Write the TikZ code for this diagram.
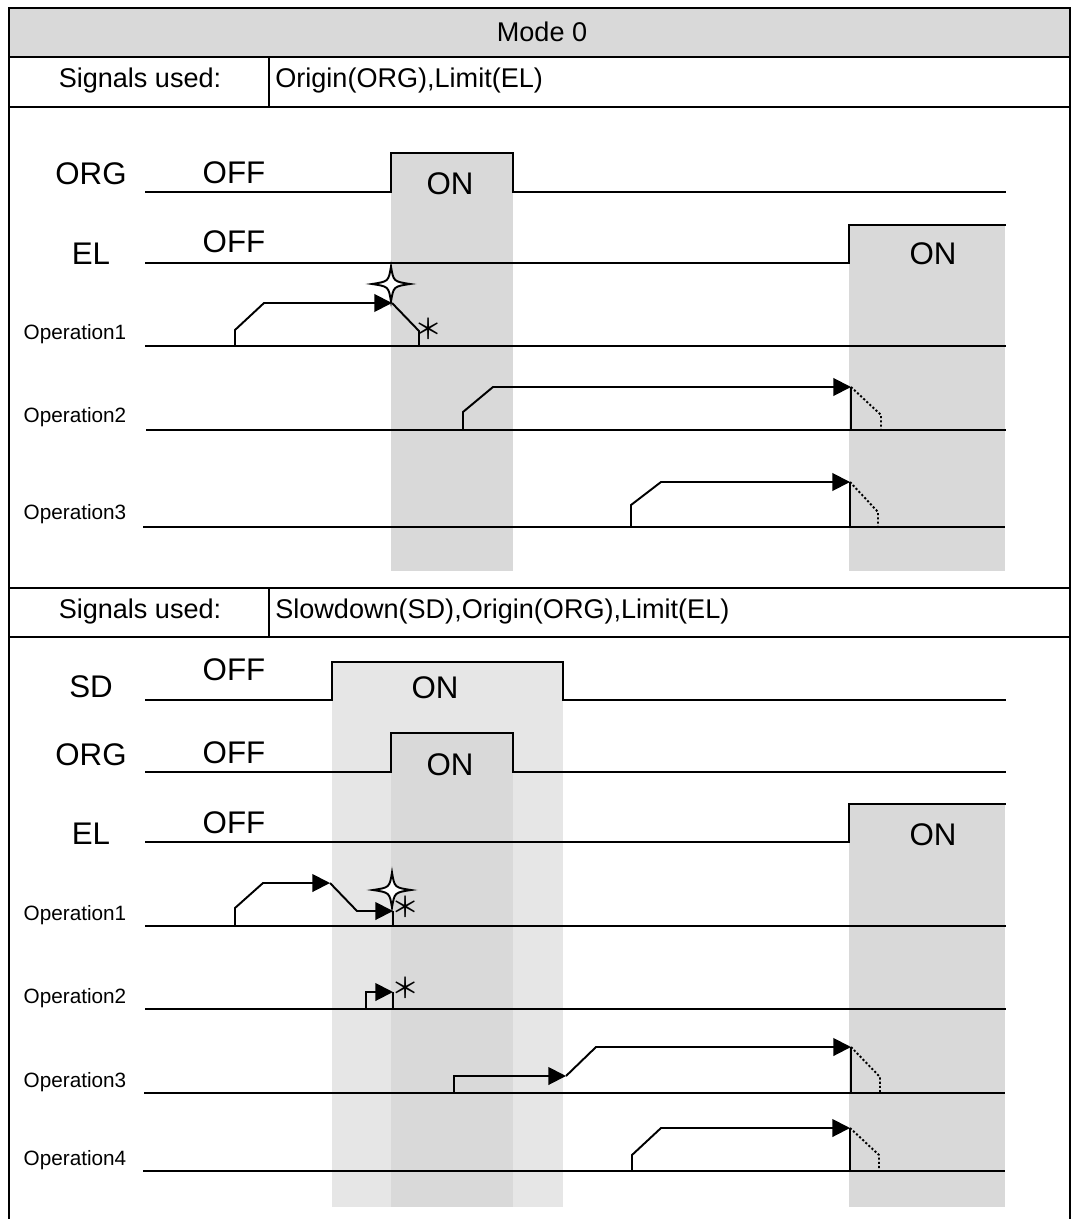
\documentclass[tikz,border=0pt]{standalone}
\usepackage{fontspec}
\setmainfont{Liberation Sans}
\newfontfamily\cjkfont{Noto Sans CJK JP}
\usepackage{xcolor}
\usepackage{tikz}
\usetikzlibrary{arrows.meta}
\definecolor{ShadeDark}{HTML}{D9D9D9}
\definecolor{ShadeLight}{HTML}{E6E6E6}
\newcommand{\cellfont}{\fontsize{15.4}{18}\selectfont}
\newcommand{\sigfont}{\fontsize{17.8}{20}\selectfont}
\newcommand{\opfont}{\fontsize{11.8}{14}\selectfont}
\newcommand{\astfont}{\cjkfont\fontsize{16}{18}\selectfont}
% four-point star marking where the origin is caught
\newcommand{\sparkat}[1]{\draw[spark,shift={#1}] (0,-17.5) .. controls (2.5,-2.5) .. (19,0) .. controls (2.5,2.5) .. (0,17.5) .. controls (-2.5,2.5) .. (-19,0) .. controls (-2.5,-2.5) .. (0,-17.5) -- cycle;}

\begin{document}
\begin{tikzpicture}[
        x=0.02cm, y=-0.02cm,
        every node/.style={inner sep=0pt},
        cell/.style={font=\cellfont},
        siglabel/.style={font=\sigfont,anchor=base},
        oplabel/.style={font=\opfont,anchor=base},
        astmark/.style={font=\astfont},
        rule/.style={line width=1.6pt},
        wave/.style={line width=1.1pt},
        move/.style={line width=1.1pt},
        arr/.style={move,-{Triangle[length=10pt,width=10pt]}},
        coast/.style={line width=1.1pt,dash pattern=on 1.2pt off 1.2pt},
        spark/.style={draw,fill=white,line width=1.1pt}
      ]
      \useasboundingbox (0,0) rectangle (1074,1219);

      % table frame
      \fill[ShadeDark] (9,8) rectangle (1070,57);
      \draw[rule] (9,1219) -- (9,8) -- (1070,8) -- (1070,1219);
      \draw[rule] (9,57) -- (1070,57);
      \draw[rule] (9,107) -- (1070,107);
      \draw[rule] (269,57) -- (269,107);
      \draw[rule] (9,588) -- (1070,588);
      \draw[rule] (9,637) -- (1070,637);
      \draw[rule] (269,588) -- (269,637);

      \node[cell] (title) at (542,32) {Mode 0};
      \node[cell,anchor=base] (usedA) at (140,88) {Signals used:};
      \node[cell,anchor=base west] (listA) at (275,88) {Origin(ORG),Limit(EL)};
      \node[cell,anchor=base] (usedB) at (140,618) {Signals used:};
      \node[cell,anchor=base west] (listB) at (275,618) {Slowdown(SD),Origin(ORG),Limit(EL)};

      % shaded ON windows
      \fill[ShadeDark] (391,153) rectangle (513,571);
      \fill[ShadeDark] (849,225) rectangle (1005,571);
      \fill[ShadeLight] (332,662) rectangle (563,1207);
      \fill[ShadeDark] (391,733) rectangle (513,1207);
      \fill[ShadeDark] (849,804) rectangle (1005,1207);

      % first block: ORG + EL
      \draw[wave] (145,192) -- (391,192) -- (391,153) -- (513,153) -- (513,192) -- (1006,192);
      \draw[wave] (145,263) -- (849,263) -- (849,225) -- (1006,225);
      \draw[wave] (145,346) -- (1006,346);
      \draw[wave] (146,430) -- (1006,430);
      \draw[wave] (143,527) -- (1005,527);

      \node[siglabel] (orgA) at (91,185) {ORG};
      \node[siglabel] (orgAoff) at (234,184) {OFF};
      \node[siglabel] (orgAon) at (450,195) {ON};
      \node[siglabel] (elA) at (91,265) {EL};
      \node[siglabel] (elAoff) at (234,253) {OFF};
      \node[siglabel] (elAon) at (933,265) {ON};
      \node[oplabel] (opA1) at (75,340) {Operation1};
      \node[oplabel] (opA2) at (75,422) {Operation2};
      \node[oplabel] (opA3) at (75,519) {Operation3};

      \draw[arr] (235,346) -- (235,330) -- (264,303) -- (392,303);
      \draw[move] (392,303) -- (419,331) -- (419,346);
      \sparkat{(391,284)}
      \node[astmark] (astA1) at (429,329) {＊};

      \draw[arr] (463,430) -- (463,412) -- (493,387) -- (851,387);
      \draw[move] (851,387) -- (851,430);
      \draw[coast] (851,387) -- (881,415) -- (881,430);

      \draw[arr] (631,527) -- (631,505) -- (661,482) -- (850,482);
      \draw[move] (850,482) -- (850,527);
      \draw[coast] (850,482) -- (878,512) -- (878,527);

      % second block: SD + ORG + EL
      \draw[wave] (145,700) -- (332,700) -- (332,662) -- (563,662) -- (563,700) -- (1006,700);
      \draw[wave] (145,772) -- (391,772) -- (391,733) -- (513,733) -- (513,772) -- (1006,772);
      \draw[wave] (145,842) -- (849,842) -- (849,804) -- (1006,804);
      \draw[wave] (145,926) -- (1006,926);
      \draw[wave] (145,1009) -- (1006,1009);
      \draw[wave] (144,1093) -- (1005,1093);
      \draw[wave] (143,1171) -- (1005,1171);

      \node[siglabel] (sdB) at (91,697) {SD};
      \node[siglabel] (sdBoff) at (234,680) {OFF};
      \node[siglabel] (sdBon) at (435,698) {ON};
      \node[siglabel] (orgB) at (91,765) {ORG};
      \node[siglabel] (orgBoff) at (234,763) {OFF};
      \node[siglabel] (orgBon) at (450,775) {ON};
      \node[siglabel] (elB) at (91,844) {EL};
      \node[siglabel] (elBoff) at (234,833) {OFF};
      \node[siglabel] (elBon) at (933,845) {ON};
      \node[oplabel] (opB1) at (75,920) {Operation1};
      \node[oplabel] (opB2) at (75,1003) {Operation2};
      \node[oplabel] (opB3) at (75,1087) {Operation3};
      \node[oplabel] (opB4) at (75,1165) {Operation4};

      \draw[arr] (235,926) -- (235,908) -- (263,883) -- (330,883);
      \draw[arr] (330,883) -- (357,911) -- (393,911);
      \draw[move] (393,911) -- (393,926);
      \sparkat{(392,890)}
      \node[astmark] (astB1) at (406,907) {＊};

      \draw[arr] (366,1009) -- (366,992) -- (393,992);
      \draw[move] (393,992) -- (393,1009);
      \node[astmark] (astB2) at (406,988) {＊};

      \draw[arr] (454,1093) -- (454,1076) -- (566,1076);
      \draw[arr] (566,1076) -- (596,1047) -- (851,1047);
      \draw[move] (851,1047) -- (851,1093);
      \draw[coast] (851,1047) -- (880,1077) -- (880,1093);

      \draw[arr] (632,1171) -- (632,1155) -- (661,1128) -- (850,1128);
      \draw[move] (850,1128) -- (850,1171);
      \draw[coast] (850,1128) -- (879,1155) -- (879,1171);
    \end{tikzpicture}
\end{document}
